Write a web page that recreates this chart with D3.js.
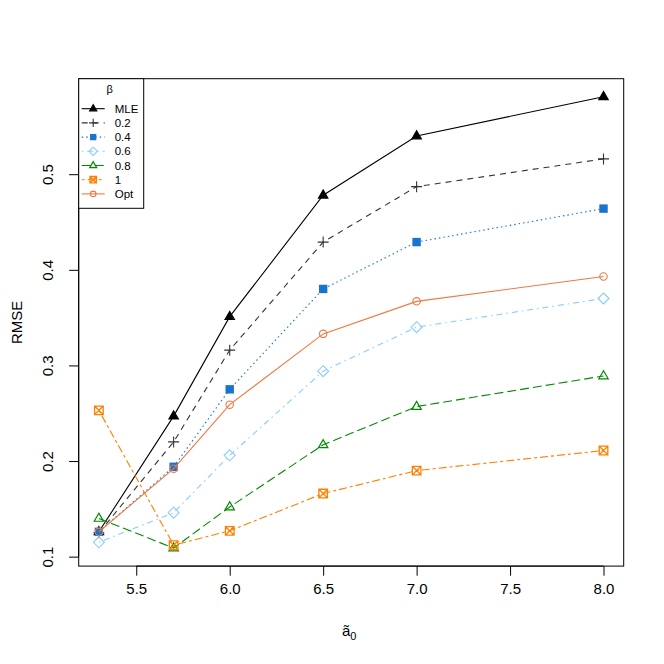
<!DOCTYPE html>
<html>
<head>
<meta charset="utf-8">
<script src="https://cdn.jsdelivr.net/npm/d3@7"></script>
<style>
  body { margin: 0; background: #fff; }
  svg { display: block; font-family: "Liberation Sans", Arial, sans-serif; }
</style>
</head>
<body>
<div id="chart"></div>
<script>
const xVals = [5.3, 5.7, 6.0, 6.5, 7.0, 8.0];
const mle  = [0.126, 0.247, 0.351, 0.478, 0.540, 0.581];
const b02  = [0.125, 0.220, 0.316, 0.429, 0.487, 0.516];
const b04  = [0.126, 0.194, 0.275, 0.380, 0.429, 0.464];
const b06  = [0.115, 0.146, 0.206, 0.294, 0.340, 0.370];
const b08  = [0.140, 0.109, 0.152, 0.217, 0.257, 0.289];
const b1   = [0.253, 0.112, 0.127, 0.166, 0.190, 0.211];
const opt  = [0.126, 0.192, 0.259, 0.333, 0.367, 0.393];
const seriesNames = ["MLE", "0.2", "0.4", "0.6", "0.8", "1", "Opt"];
const xTicks = [5.5, 6.0, 6.5, 7.0, 7.5, 8.0];
const yTicks = [0.1, 0.2, 0.3, 0.4, 0.5];

const W = 664, H = 664;
const margin = { top: 78.7, right: 40.3, bottom: 97.9, left: 78.7 };

const styles = [
  { color: "#000000", dash: null,        pch: "tri-fill" },
  { color: "#333333", dash: "6,5",       pch: "plus" },
  { color: "#1874CD", dash: "1.5,3",     pch: "sq-fill" },
  { color: "#87CEFA", dash: "1.5,4,6,4", pch: "diamond" },
  { color: "#008B00", dash: "9,4",       pch: "tri" },
  { color: "#FF7F00", dash: "3,3,8,3",   pch: "sqx" },
  { color: "#EE7942", dash: null,        pch: "circle" }
];
const allSeries = [mle, b02, b04, b06, b08, b1, opt];

const svg = d3.select("#chart").append("svg")
  .attr("width", W).attr("height", H);

// R-like 4% axis extension
const xr = d3.extent(xVals), xe = (xr[1] - xr[0]) * 0.04;
const yr = d3.extent(allSeries.flat()), ye = (yr[1] - yr[0]) * 0.04;

const x = d3.scaleLinear().domain([xr[0] - xe, xr[1] + xe]).range([margin.left, W - margin.right]);
const y = d3.scaleLinear().domain([yr[0] - ye, yr[1] + ye]).range([H - margin.bottom, margin.top]);

// axes
const gX = svg.append("g").attr("transform", `translate(0,${H - margin.bottom})`)
  .call(d3.axisBottom(x).tickValues(xTicks).tickFormat(d3.format(".1f")).tickSize(9.6).tickPadding(6).tickSizeOuter(0));
const gY = svg.append("g").attr("transform", `translate(${margin.left},0)`)
  .call(d3.axisLeft(y).tickValues(yTicks).tickFormat(d3.format(".1f")).tickSize(9.6).tickSizeOuter(0));
gX.select(".domain").attr("d", `M${x(xTicks[0])},0H${x(xTicks[xTicks.length - 1])}`);
gY.select(".domain").attr("d", `M0,${y(yTicks[0])}V${y(yTicks[yTicks.length - 1])}`);
svg.selectAll(".tick text").attr("font-size", 15).attr("font-family", "Liberation Sans, Arial, sans-serif").attr("fill", "#000");
gX.selectAll(".tick text").attr("dy", "0.71em").attr("y", 17);
gY.selectAll(".tick text")
  .attr("x", null).attr("dy", null)
  .attr("text-anchor", "middle")
  .attr("transform", d => `translate(-26,0) rotate(-90)`)
  .attr("y", 0);

svg.append("rect")
  .attr("x", margin.left).attr("y", margin.top)
  .attr("width", W - margin.left - margin.right).attr("height", H - margin.top - margin.bottom)
  .attr("fill", "none").attr("stroke", "#000").attr("stroke-width", 1);

// axis titles
svg.append("text").attr("transform", `translate(22,${(margin.top + H - margin.bottom) / 2}) rotate(-90)`)
  .attr("text-anchor", "middle").attr("font-size", 15).text("RMSE");
const xl = svg.append("text").attr("x", (margin.left + W - margin.right) / 2 - 2).attr("y", 636)
  .attr("text-anchor", "middle").attr("font-size", 15);
xl.append("tspan").text("ã");
xl.append("tspan").attr("font-size", 11).attr("dy", 4).text("0");

function drawMarker(g, type, color, cx, cy, s) {
  const k = s || 1;
  if (type === "tri-fill" || type === "tri") {
    const r = 5.2 * k;
    const pts = [[cx, cy - r], [cx - r * 0.9, cy + r * 0.55], [cx + r * 0.9, cy + r * 0.55]];
    g.append("path").attr("d", d3.line()(pts) + "Z")
      .attr("fill", type === "tri-fill" ? color : "none")
      .attr("stroke", color).attr("stroke-width", 1.2);
  } else if (type === "plus") {
    const r = 5.5 * k;
    g.append("path").attr("d", `M${cx - r},${cy}H${cx + r}M${cx},${cy - r}V${cy + r}`)
      .attr("stroke", color).attr("stroke-width", 1.1).attr("fill", "none");
  } else if (type === "sq-fill") {
    const r = 4.2 * k;
    g.append("rect").attr("x", cx - r).attr("y", cy - r).attr("width", 2 * r).attr("height", 2 * r)
      .attr("fill", color);
  } else if (type === "diamond") {
    const r = 5.5 * k;
    g.append("path").attr("d", `M${cx},${cy - r}L${cx + r},${cy}L${cx},${cy + r}L${cx - r},${cy}Z`)
      .attr("fill", "none").attr("stroke", color).attr("stroke-width", 1.1);
  } else if (type === "sqx") {
    const r = 4.3 * k;
    g.append("path").attr("d", `M${cx - r},${cy - r}H${cx + r}V${cy + r}H${cx - r}Z M${cx - r},${cy - r}L${cx + r},${cy + r}M${cx + r},${cy - r}L${cx - r},${cy + r}`)
      .attr("fill", "none").attr("stroke", color).attr("stroke-width", 1.3);
  } else if (type === "circle") {
    g.append("circle").attr("cx", cx).attr("cy", cy).attr("r", 3.7 * k)
      .attr("fill", "none").attr("stroke", color).attr("stroke-width", 1.1);
  }
}

const line = d3.line().x(d => x(d[0])).y(d => y(d[1]));

allSeries.forEach((vals, i) => {
  const st = styles[i];
  const pts = xVals.map((xv, j) => [xv, vals[j]]);
  const g = svg.append("g");
  g.append("path").datum(pts).attr("d", line)
    .attr("fill", "none").attr("stroke", st.color).attr("stroke-width", 1.1)
    .attr("stroke-dasharray", st.dash);
  pts.forEach(p => drawMarker(g, st.pch, st.color, x(p[0]), y(p[1])));
});

// legend
const lg = svg.append("g");
const lx = margin.left, ly = margin.top;
lg.append("rect").attr("x", lx).attr("y", ly).attr("width", 65).attr("height", 129.6)
  .attr("fill", "#fff").attr("stroke", "#000").attr("stroke-width", 1);
lg.append("text").attr("x", lx + 31).attr("y", ly + 14.5).attr("text-anchor", "middle")
  .attr("font-size", 11).text("β");
seriesNames.forEach((name, i) => {
  const st = styles[i];
  const yy = ly + 30 + i * 14.2;
  lg.append("line").attr("x1", lx + 3).attr("x2", lx + 26).attr("y1", yy).attr("y2", yy)
    .attr("stroke", st.color).attr("stroke-width", 1.1).attr("stroke-dasharray", st.dash);
  drawMarker(lg, st.pch, st.color, lx + 14.5, yy, 0.75);
  lg.append("text").attr("x", lx + 36).attr("y", yy + 4).attr("font-size", 11.5).text(name);
});
</script>
</body>
</html>
